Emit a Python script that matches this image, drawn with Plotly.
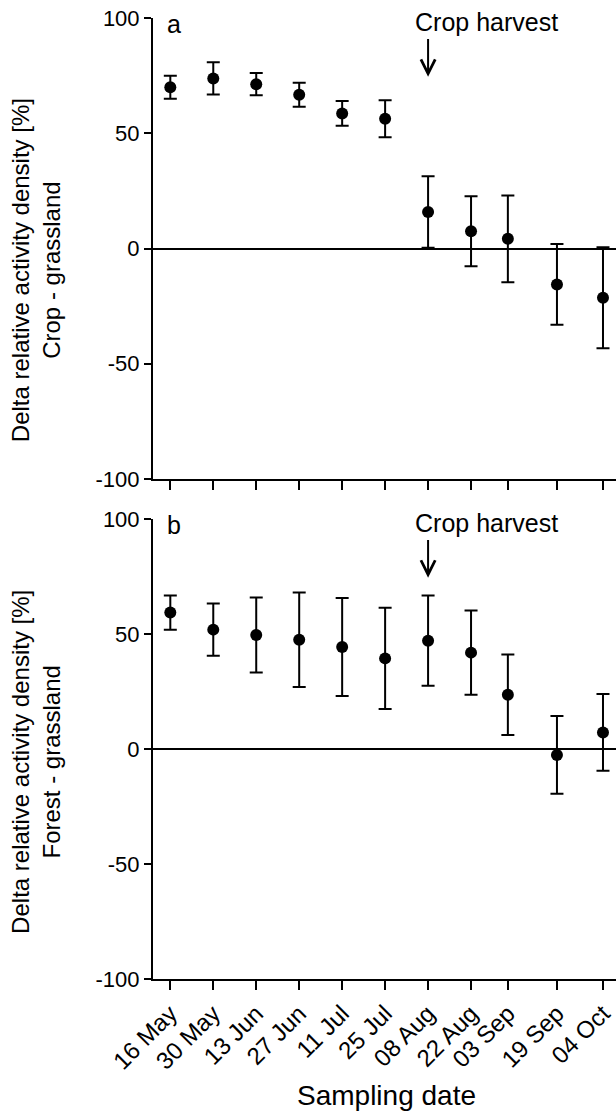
import plotly.graph_objects as go
from plotly.subplots import make_subplots

# Sampling dates and their axis labels
dates = ["2014-05-16", "2014-05-30", "2014-06-13", "2014-06-27", "2014-07-11",
         "2014-07-25", "2014-08-08", "2014-08-22", "2014-09-03", "2014-09-19",
         "2014-10-04"]
tick_labels = ["16 May", "30 May", "13 Jun", "27 Jun", "11 Jul", "25 Jul",
               "08 Aug", "22 Aug", "03 Sep", "19 Sep", "04 Oct"]

# Crop - grassland: mean difference and standard error
crop_mean = [70.0, 73.8, 71.3, 66.7, 58.6, 56.3, 15.8, 7.5, 4.2, -15.6, -21.4]
crop_se = [5.0, 7.0, 4.8, 5.2, 5.4, 8.0, 15.5, 15.2, 18.8, 17.5, 21.9]

# Forest - grassland: mean difference and standard error
forest_mean = [59.3, 51.9, 49.6, 47.5, 44.3, 39.4, 47.1, 41.9, 23.6, -2.6, 7.2]
forest_se = [7.4, 11.4, 16.3, 20.5, 21.3, 22.0, 19.6, 18.3, 17.5, 16.9, 16.7]

y_ticks = [-100, -50, 0, 50, 100]
y_tick_labels = ["-100", "-50", "0", "50", "100"]
harvest_date = "2014-08-08"

FONT = "Liberation Sans, Arial, Helvetica, sans-serif"
W, H = 616, 1115
M_L, M_R, M_T, M_B = 153, 0, 18, 136
plot_h = H - M_T - M_B

def py_to_paper(px):
    return (H - M_B - px) / plot_h

fig = make_subplots(rows=2, cols=1, shared_xaxes=False, vertical_spacing=0.0)

panels = [
    (1, crop_mean, crop_se, "a", "Delta relative activity density [%]<br>Crop - grassland"),
    (2, forest_mean, forest_se, "b", "Delta relative activity density [%]<br>Forest - grassland"),
]

for row, mean, se, letter, title in panels:
    fig.add_trace(
        go.Scatter(
            x=dates, y=mean, mode="markers",
            marker=dict(color="black", size=12, symbol="circle"),
            error_y=dict(type="data", array=se, visible=True,
                         color="black", thickness=2, width=6.5),
            showlegend=False, cliponaxis=False,
        ),
        row=row, col=1,
    )

# Axis ranges and styling
x_range = ["2014-05-10 08:36", "2014-10-08 05:45"]
common_x = dict(
    type="date", range=x_range, tickvals=dates, ticktext=tick_labels,
    showline=True, linecolor="black", linewidth=2,
    ticks="outside", ticklen=9, tickwidth=2, tickcolor="black",
    showgrid=False, zeroline=False,
    tickfont=dict(family=FONT, size=24, color="black"),
)
common_y = dict(
    range=[-100, 100], tickvals=y_ticks, ticktext=y_tick_labels,
    showline=True, linecolor="black", linewidth=2,
    ticks="outside", ticklen=7, tickwidth=2, tickcolor="black",
    showgrid=False, zeroline=True, zerolinecolor="black", zerolinewidth=1.5,
    tickfont=dict(family=FONT, size=22, color="black"),
)

top_dom = [py_to_paper(479), 1.0]
bot_dom = [0.0, py_to_paper(519)]

fig.update_xaxes(**common_x, showticklabels=False, row=1, col=1)
fig.update_xaxes(**common_x, showticklabels=True, tickangle=-45, row=2, col=1)
fig.update_yaxes(**common_y, domain=top_dom, row=1, col=1)
fig.update_yaxes(**common_y, domain=bot_dom, row=2, col=1)

annotations = []
title_y = {"y": 0.453, "y2": 0.472}
for (row, mean, se, letter, title), xr, yr in zip(panels, ["x", "x2"], ["y", "y2"]):
    # panel letter
    annotations.append(dict(
        text=letter, xref=f"{xr} domain", yref=yr, x=0.026, y=97.5,
        xanchor="left", yanchor="middle", showarrow=False,
        font=dict(family=FONT, size=25, color="black"),
    ))
    # harvest arrow
    annotations.append(dict(
        text="", xref=xr, yref=yr, x=harvest_date, y=74.5,
        axref=xr, ayref=yr, ax=harvest_date, ay=91.5,
        showarrow=True, arrowhead=5, arrowsize=1.4, arrowwidth=2,
        arrowcolor="black", standoff=0, startstandoff=0,
    ))
    # harvest label
    annotations.append(dict(
        text="Crop harvest", xref=xr, yref=yr, x=harvest_date, y=98.2,
        xanchor="left", yanchor="middle", xshift=-15, showarrow=False,
        font=dict(family=FONT, size=25, color="black"),
    ))
    # y-axis title
    annotations.append(dict(
        text=title, xref="paper", yref=f"{yr} domain",
        x=(36 - M_L) / (W - M_L - M_R), y=title_y[yr],
        xanchor="center", yanchor="middle", textangle=-90, showarrow=False,
        font=dict(family=FONT, size=24, color="black"),
    ))

# x-axis title
annotations.append(dict(
    text="Sampling date", xref="paper", yref="paper",
    x=(386 - M_L) / (W - M_L - M_R), y=py_to_paper(1095),
    xanchor="center", yanchor="middle", showarrow=False,
    font=dict(family=FONT, size=28, color="black"),
))

fig.update_layout(
    width=W, height=H,
    margin=dict(l=M_L, r=M_R, t=M_T, b=M_B),
    plot_bgcolor="white", paper_bgcolor="white",
    annotations=annotations,
    font=dict(family=FONT, color="black"),
)

fig.write_html("out.html")
